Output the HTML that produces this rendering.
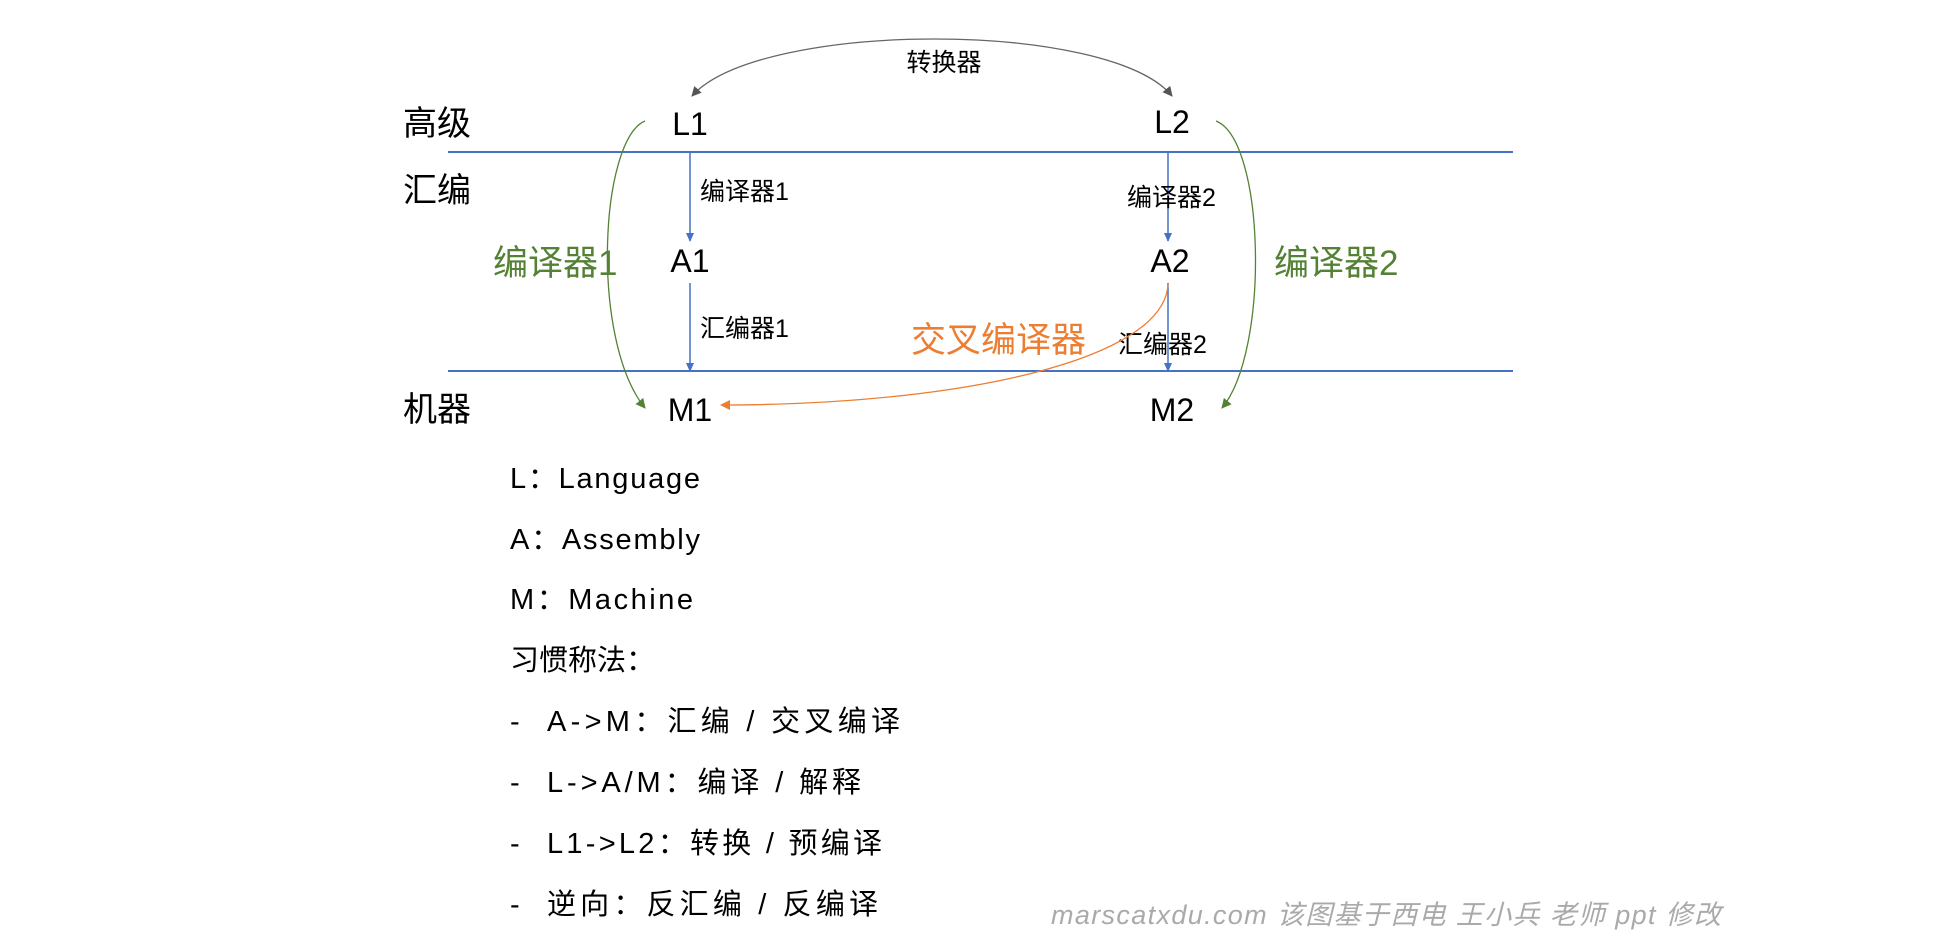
<!DOCTYPE html>
<html><head><meta charset="utf-8"><style>
html,body{margin:0;padding:0;background:#fff;}
svg{display:block;}
text{font-family:"Liberation Sans","Noto Sans CJK SC",sans-serif;}
</style></head><body>
<svg width="1945" height="943" viewBox="0 0 1945 943" xmlns="http://www.w3.org/2000/svg">
<defs>
<marker id="ab" markerWidth="10" markerHeight="10" refX="8" refY="5" orient="auto" markerUnits="userSpaceOnUse"><path d="M0,1 L9,5 L0,9 z" fill="#4472c4"/></marker>
<marker id="ag" markerWidth="12" markerHeight="12" refX="9" refY="6" orient="auto-start-reverse" markerUnits="userSpaceOnUse"><path d="M0,1 L10,6 L0,11 z" fill="#555"/></marker>
<marker id="agr" markerWidth="12" markerHeight="12" refX="9" refY="6" orient="auto" markerUnits="userSpaceOnUse"><path d="M0,1 L10,6 L0,11 z" fill="#548235"/></marker>
<marker id="ao" markerWidth="12" markerHeight="12" refX="9" refY="6" orient="auto" markerUnits="userSpaceOnUse"><path d="M0,1 L10,6 L0,11 z" fill="#ed7d31"/></marker>
</defs>
<line x1="448" y1="152" x2="1513" y2="152" stroke="#4472c4" stroke-width="2"/>
<line x1="448" y1="371" x2="1513" y2="371" stroke="#4472c4" stroke-width="2"/>
<g font-size="34" fill="#000">
<text x="403" y="135">高级</text>
<text x="403" y="202">汇编</text>
<text x="403" y="421">机器</text>
</g>
<g font-size="32" fill="#000" text-anchor="middle">
<text x="690" y="135">L1</text>
<text x="1172" y="133">L2</text>
<text x="690" y="272">A1</text>
<text x="1170" y="272">A2</text>
<text x="690" y="421">M1</text>
<text x="1172" y="421">M2</text>
</g>
<path d="M692,96 C760,20 1110,20 1172,96" fill="none" stroke="#666" stroke-width="1.3" marker-start="url(#ag)" marker-end="url(#ag)"/>
<text x="944" y="71" font-size="25" text-anchor="middle">转换器</text>
<line x1="690" y1="153" x2="690" y2="241" stroke="#4472c4" stroke-width="1.5" marker-end="url(#ab)"/>
<line x1="690" y1="283" x2="690" y2="371" stroke="#4472c4" stroke-width="1.5" marker-end="url(#ab)"/>
<line x1="1168" y1="153" x2="1168" y2="241" stroke="#4472c4" stroke-width="1.5" marker-end="url(#ab)"/>
<line x1="1168" y1="283" x2="1168" y2="371" stroke="#4472c4" stroke-width="1.5" marker-end="url(#ab)"/>
<g font-size="25" fill="#000">
<text x="700" y="200">编译器1</text>
<text x="700" y="337">汇编器1</text>
<text x="1127" y="206">编译器2</text>
<text x="1118" y="353">汇编器2</text>
</g>
<path d="M645,121 C600,140 590,340 645,408" fill="none" stroke="#548235" stroke-width="1.3" marker-end="url(#agr)"/>
<path d="M1216,121 C1265,140 1270,350 1222,408" fill="none" stroke="#548235" stroke-width="1.3" marker-end="url(#agr)"/>
<text x="493" y="275" font-size="35" fill="#548235">编译器1</text>
<text x="1274" y="275" font-size="35" fill="#548235">编译器2</text>
<path d="M1168,284 C1165,360 960,405 721,405" fill="none" stroke="#ed7d31" stroke-width="1.3" marker-end="url(#ao)"/>
<text x="911" y="352" font-size="35" fill="#ed7d31">交叉编译器</text>
<g font-size="29" fill="#000">
<text x="510" y="488" textLength="190">L：Language</text>
<text x="510" y="549" textLength="190">A：Assembly</text>
<text x="510" y="609" textLength="183">M：Machine</text>
<text x="510" y="670" textLength="145">习惯称法：</text>
<text x="510" y="731">-</text><text x="547" y="731" textLength="353">A-&gt;M：汇编 / 交叉编译</text>
<text x="510" y="792">-</text><text x="547" y="792" textLength="314">L-&gt;A/M：编译 / 解释</text>
<text x="510" y="853">-</text><text x="547" y="853" textLength="335">L1-&gt;L2：转换 / 预编译</text>
<text x="510" y="914">-</text><text x="547" y="914" textLength="331">逆向：反汇编 / 反编译</text>
</g>
<text x="1051" y="924" font-size="27" fill="#aaa" font-style="italic" textLength="670">marscatxdu.com 该图基于西电 王小兵 老师 ppt 修改</text>
</svg>
</body></html>
